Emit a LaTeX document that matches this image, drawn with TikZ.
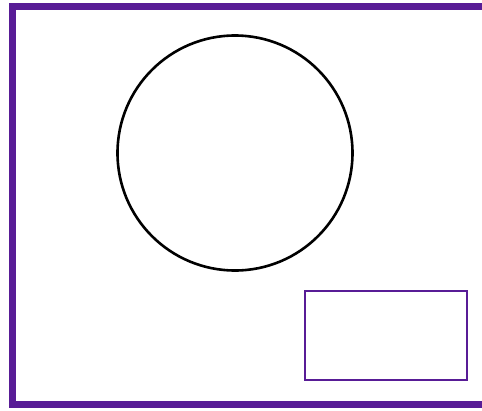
\documentclass[tikz,border=0pt]{standalone}
\definecolor{frameviolet}{RGB}{88,28,150}
\begin{document}
\begin{tikzpicture}[x=1pt,y=-1pt,
  framestyle/.style={draw=frameviolet,line width=7pt},
  boxstyle/.style={draw=frameviolet,line width=1.8pt},
  ringstyle/.style={draw=black,line width=2.6pt}]
\useasboundingbox (0,0) rectangle (482,410);
\clip (0,0) rectangle (482,410);
\fill[white] (0,0) rectangle (482,410);
\draw[framestyle] (12,6.5) rectangle (485.5,404);
\node[ringstyle,circle,minimum size=235pt,inner sep=0pt] (ring) at (235,153) {};
\node[boxstyle,rectangle,minimum width=162pt,minimum height=89pt,inner sep=0pt] (box) at (386,335.5) {};
\end{tikzpicture}
\end{document}
